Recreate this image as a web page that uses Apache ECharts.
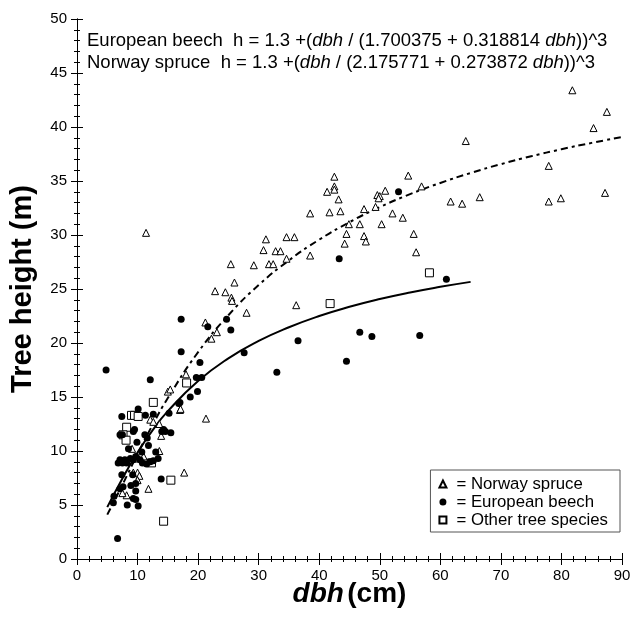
<!DOCTYPE html>
<html><head><meta charset="utf-8">
<script src="https://cdn.jsdelivr.net/npm/echarts@6/dist/echarts.min.js"></script>
<style>html,body{margin:0;padding:0;background:#fff}#c{width:634px;height:618px}</style>
</head><body><div id="c"></div>
<script>
// Norway spruce observations [dbh (cm), height (m)]
const spruce = [
[11.4,30.2],[31.2,29.6],[34.6,29.8],[35.9,29.8],[30.8,28.6],[32.8,28.5],[33.6,28.5],[25.4,27.3],[29.2,27.2],[31.7,27.3],
[32.4,27.3],[34.6,27.8],[26.0,25.6],[22.8,24.8],[24.5,24.7],[25.5,24.2],[25.6,23.9],[28.0,22.8],[36.2,23.5],[21.2,21.9],
[23.1,21.0],[22.2,20.4],[18.0,17.1],[17.0,13.8],[21.3,13.0],[38.5,28.1],[38.5,32.0],[41.7,32.1],[43.5,32.2],[42.5,35.4],
[42.5,34.5],[42.5,34.2],[41.3,34.0],[43.2,33.3],[49.6,33.7],[50.0,33.6],[50.9,34.1],[49.8,33.4],[49.3,32.6],[47.4,32.4],
[52.1,32.0],[53.8,31.6],[50.3,31.0],[46.7,31.0],[44.9,31.0],[44.5,30.1],[47.4,29.9],[47.7,29.4],[44.2,29.2],[55.6,30.1],
[56.0,28.4],[54.7,35.5],[56.9,34.5],[61.7,33.1],[63.6,32.9],[66.5,33.5],[64.2,38.7],[77.9,36.4],[77.9,33.1],[79.9,33.4],
[81.8,43.4],[85.3,39.9],[87.5,41.4],[87.2,33.9],
[15.0,15.5],[15.4,15.7],[17.1,13.9],[12.1,12.9],[12.6,12.7],[13.6,12.5],[13.9,11.4],[9.1,10.2],[13.6,10.0],[10.2,9.3],
[11.0,9.5],[9.3,8.0],[10.0,8.0],[10.3,7.7],[10.0,7.3],[17.7,8.0],[11.8,6.5],[8.2,5.9],[7.5,6.1]
];
// European beech observations
const beech = [
[6.7,1.9],[12.1,16.6],[19.9,15.5],[18.7,15.0],[16.8,14.4],[15.2,13.5],[7.4,13.2],[10.1,13.9],[11.3,13.3],[12.6,13.4],
[14.3,12.0],[14.6,11.8],[15.5,11.7],[14.0,11.8],[9.3,11.8],[9.5,12.0],[7.1,11.5],[7.5,11.5],[11.2,11.5],[11.6,11.2],
[9.9,10.8],[11.8,10.5],[10.7,9.9],[8.5,10.2],[13.0,9.9],[13.4,9.3],[7.1,9.2],[7.9,9.2],[8.8,9.3],[9.3,9.2],
[9.7,9.5],[10.4,9.2],[6.8,8.9],[7.5,8.9],[8.2,8.9],[10.8,8.9],[11.5,8.8],[12.1,9.0],[12.6,9.1],[7.4,7.8],
[9.2,7.8],[13.9,7.4],[7.1,6.5],[7.6,6.7],[8.9,6.8],[9.7,7.0],[9.7,6.3],[6.1,5.8],[9.3,5.6],[9.7,5.5],
[8.3,5.0],[10.1,4.9],[6.0,5.2],[4.8,17.5],
[17.2,22.2],[24.7,22.2],[21.6,21.5],[25.4,21.2],[36.5,20.2],[27.6,19.1],[17.2,19.2],[20.3,18.2],[33.0,17.3],[19.7,16.8],
[20.6,16.8],[46.7,21.0],[48.7,20.6],[56.6,20.7],[44.5,18.3],[53.1,34.0],[43.3,27.8],[61.0,25.9],[17.0,14.5]
];
// Other tree species observations
const other = [
[18.1,16.3],[12.6,14.5],[9.0,13.3],[9.5,13.3],[10.1,13.2],[8.2,12.2],[7.6,11.5],[8.1,11.0],[12.3,8.9],[15.5,7.3],
[14.3,3.5],[41.8,23.65],[58.2,26.5]
];
// Fitted curves (values read at selected dbh)
const beechCurveDbh = [5,7.5,10,12.5,15,20,25,30,35,40,45,50,55,60,65];
const beechCurveH   = [4.80,7.46,9.86,11.93,13.69,16.48,18.58,20.19,21.46,22.50,23.35,24.07,24.68,25.20,25.66];
const spruceCurveDbh = [5,7.5,10,12.5,15,20,25,30,35,40,45,50,55,60,65,70,75,80,85,90];
const spruceCurveH   = [4.11,6.87,9.72,12.43,14.90,19.15,22.57,25.36,27.65,29.57,31.19,32.58,33.78,34.82,35.74,36.56,37.29,37.94,38.53,39.07];

const seriesNames = ['Norway spruce','European beech','Other tree species'];
const eqBeech = ['European beech  h = 1.3 +(', 'dbh', ' / (1.700375 + 0.318814 ', 'dbh', '))^3'];
const eqSpruce = ['Norway spruce  h = 1.3 +(', 'dbh', ' / (2.175771 + 0.273872 ', 'dbh', '))^3'];

const FONT = '"Liberation Sans", Arial, sans-serif';
const chart = echarts.init(document.getElementById('c'), null, {renderer:'canvas'});

function zipXY(xs, ys){ return xs.map((x,i)=>[x, ys[i]]); }
function eqRich(parts){
  return parts.map((p,i)=> (i%2===1 ? '{i|'+p+'}' : '{n|'+p+'}')).join('');
}
const axisCommon = {
  axisLine:{show:true, lineStyle:{color:'#000', width:1}},
  axisTick:{show:true, inside:true, length:6, lineStyle:{color:'#000'}},
  minorTick:{show:true, splitNumber:5, length:-3, lineStyle:{color:'#000'}},
  splitLine:{show:false}
};
const richEq = {
  n:{fontFamily:FONT, fontSize:18.5, color:'#000'},
  i:{fontFamily:FONT, fontSize:18.5, fontStyle:'italic', color:'#000'}
};

chart.setOption({
  animation:false,
  backgroundColor:'#fff',
  grid:{left:77, right:12, top:19, bottom:59, outerBoundsMode:'none', containLabel:false},
  xAxis:[
    Object.assign({type:'value', min:0, max:90, interval:10, position:'bottom',
      axisLabel:{color:'#000', fontSize:15, fontFamily:FONT, margin:9},
      name:'{i|dbh} {n|(cm)}', nameLocation:'middle', nameGap:21, nameMoveOverlap:false,
      nameTextStyle:{rich:{
        i:{fontFamily:FONT, fontSize:28, fontWeight:'bold', fontStyle:'italic', color:'#000'},
        n:{fontFamily:FONT, fontSize:28, fontWeight:'bold', color:'#000'}}}
    }, axisCommon),
    Object.assign({type:'value', min:0, max:90, interval:10, position:'top', axisLabel:{show:false}}, axisCommon)
  ],
  yAxis:[
    Object.assign({type:'value', min:0, max:50, interval:5, position:'left',
      axisLabel:{color:'#000', fontSize:15, fontFamily:FONT, margin:10},
      name:'Tree height (m)', nameLocation:'middle', nameGap:40, nameMoveOverlap:false,
      nameTextStyle:{fontFamily:FONT, fontSize:29, fontWeight:'bold', color:'#000'}
    }, axisCommon),
    Object.assign({type:'value', min:0, max:50, interval:5, position:'right', axisLabel:{show:false}}, axisCommon)
  ],
  legend:{
    data:seriesNames, orient:'vertical', right:14, bottom:86,
    formatter: n => '= ' + n,
    itemWidth:7, itemHeight:7, itemGap:0,
    padding:[5,12,3,8],
    borderColor:'#555', borderWidth:1, borderRadius:0, backgroundColor:'#fff',
    textStyle:{fontFamily:FONT, fontSize:16.8, lineHeight:18, color:'#000', padding:[0,0,0,5]}
  },
  graphic:[
    {type:'text', left:87, top:31, style:{text:eqRich(eqBeech), rich:richEq}},
    {type:'text', left:87, top:53, style:{text:eqRich(eqSpruce), rich:richEq}}
  ],
  series:[
    {name:'Beech fit', type:'line', data:zipXY(beechCurveDbh, beechCurveH), smooth:true, showSymbol:false,
      lineStyle:{color:'#000', width:2}, z:1, silent:true},
    {name:'Spruce fit', type:'line', data:zipXY(spruceCurveDbh, spruceCurveH), smooth:true, showSymbol:false,
      lineStyle:{color:'#000', width:2, type:[7,4,3,4]}, z:1, silent:true},
    {name:seriesNames[0], type:'scatter', data:spruce, symbol:'triangle', symbolSize:7,
      itemStyle:{color:'#fff', borderColor:'#000', borderWidth:1, opacity:1}, z:3},
    {name:seriesNames[1], type:'scatter', data:beech, symbol:'circle', symbolSize:7,
      itemStyle:{color:'#000', borderColor:'#000', borderWidth:0, opacity:1}, z:4},
    {name:seriesNames[2], type:'scatter', data:other, symbol:'rect', symbolSize:8,
      itemStyle:{color:'#fff', borderColor:'#000', borderWidth:1, opacity:1}, z:3}
  ]
});
</script>
</body></html>
